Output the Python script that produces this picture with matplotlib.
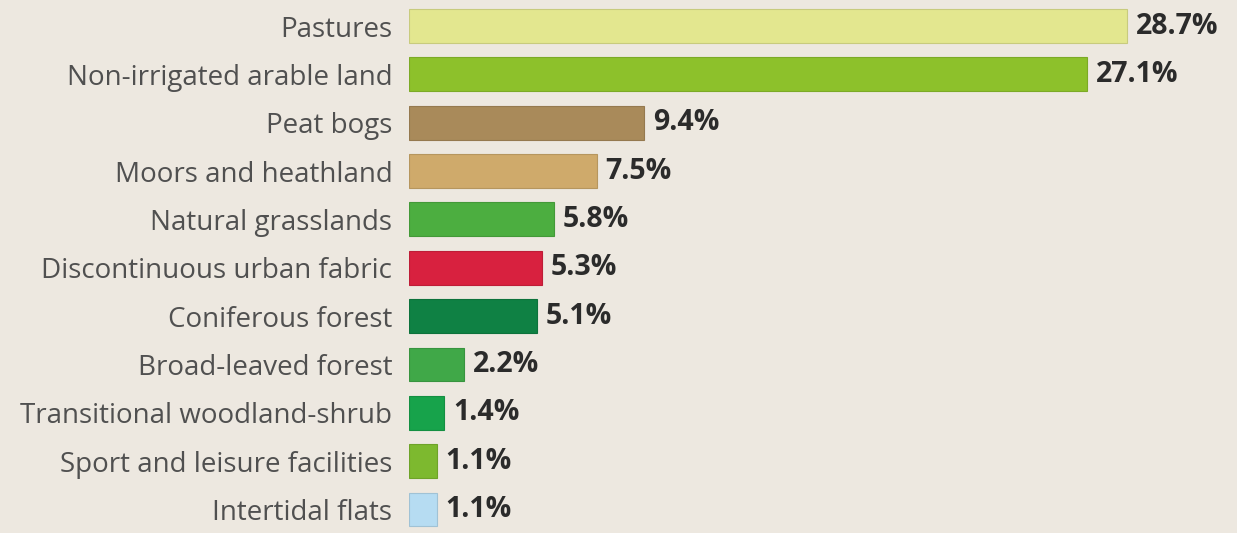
import matplotlib.pyplot as plt
import matplotlib.colors as mcolors

categories = [
    "Pastures",
    "Non-irrigated arable land",
    "Peat bogs",
    "Moors and heathland",
    "Natural grasslands",
    "Discontinuous urban fabric",
    "Coniferous forest",
    "Broad-leaved forest",
    "Transitional woodland-shrub",
    "Sport and leisure facilities",
    "Intertidal flats",
]
shares = [28.7, 27.1, 9.4, 7.5, 5.8, 5.3, 5.1, 2.2, 1.4, 1.1, 1.1]
bar_colors = [
    "#e3e78f", "#8dc12b", "#a98a5a", "#cfaa6b", "#4cae40", "#d8213f",
    "#0f8144", "#40a848", "#17a34b", "#7db92f", "#b6dcf2",
]

bg = "#ede8e0"
fig = plt.figure(figsize=(12.37, 5.33), dpi=100, facecolor=bg)
ax = fig.add_axes([409 / 1237, 0, 1 - 409 / 1237, 1])
ax.set_facecolor(bg)

rows = list(range(len(categories)))
edges = [tuple(c * 0.88 for c in mcolors.to_rgb(col)) for col in bar_colors]
ax.barh(rows, shares, height=0.7, color=bar_colors, edgecolor=edges, linewidth=0.8)

for r, v in zip(rows, shares):
    ax.text(v + 0.36, r, f"{v}%", va="center", ha="left", fontsize=20.5,
            fontweight="bold", color="#2b2b2b", family="Open Sans")

ax.set_xlim(0, 33.12)
ax.set_ylim(10.486, -0.538)
ax.set_yticks(rows)
ax.set_yticklabels(categories, fontsize=20, color="#505050", family="Open Sans")
ax.tick_params(axis="y", length=0, pad=12)
ax.set_xticks([])
for s in ax.spines.values():
    s.set_visible(False)

fig.savefig("out.png", dpi=100, facecolor=bg)
